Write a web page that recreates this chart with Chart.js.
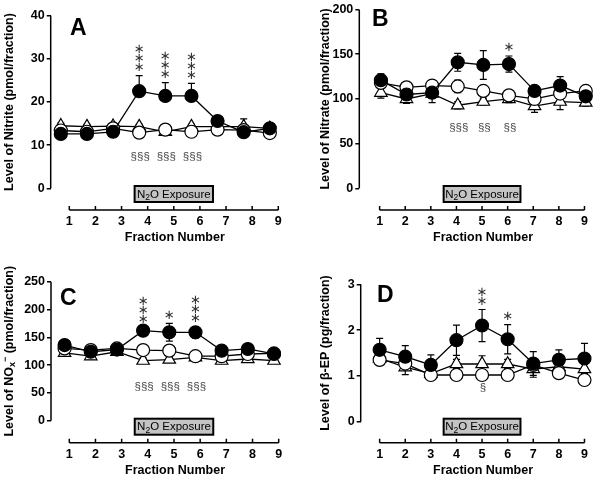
<!DOCTYPE html>
<html>
<head>
<meta charset="utf-8">
<script src="https://cdn.jsdelivr.net/npm/chart.js@4"></script>
<style>
  body { margin: 0; background: #fff; }
  #wrap { position: relative; width: 602px; height: 482px; }
  #wrap canvas { position: absolute; left: 0; top: 0; }
</style>
</head>
<body>
<div id="wrap">
  <canvas id="cA" width="602" height="482"></canvas>
  <canvas id="cB" width="602" height="482"></canvas>
  <canvas id="cC" width="602" height="482"></canvas>
  <canvas id="cD" width="602" height="482"></canvas>
</div>
<script>
// ===== DATA =====
const fractions = [1, 2, 3, 4, 5, 6, 7, 8, 9];
const exposureStart = 3.5, exposureEnd = 6.5;

// A - nitrite (pmol/fraction)
const aTicks     = [0, 10, 20, 30, 40];
const aFilled    = [12.6, 12.6, 13.1, 22.5, 21.4, 21.4, 15.6, 13.0, 13.9];
const aFilledErr = [0.5, 0.5, 0.5, 3.6, 3.1, 2.9, 0.8, 0.8, 0.5];
const aOpen      = [13.4, 13.1, 13.9, 12.9, 13.6, 13.1, 13.6, 13.5, 12.8];
const aOpenErr   = [0.5, 0.5, 0.5, 0.5, 0.5, 0.5, 0.5, 0.6, 0.5];
const aTri       = [14.5, 14.3, 14.4, 14.3, 13.1, 14.3, 14.3, 14.3, 13.9];
const aTriErr    = [0.6, 0.5, 0.5, 0.5, 0.5, 0.5, 0.5, 1.8, 0.5];
const aStars     = ['', '', '', '***', '***', '***', '', '', ''];
const aSect      = ['', '', '', '§§§', '§§§', '§§§', '', '', ''];

// B - nitrate (pmol/fraction)
const bTicks     = [0, 50, 100, 150, 200];
const bFilled    = [121, 105, 107, 141, 138, 139, 109, 115, 103];
const bFilledErr = [7, 10, 11, 10, 16, 9, 4, 10, 4];
const bOpen      = [118, 113, 115, 114, 109, 104, 100, 106, 109];
const bOpenErr   = [5, 6, 4, 7, 5, 4, 4, 5, 4];
const bTri       = [107, 100, 106, 93, 97, 100, 92, 97, 96];
const bTriErr    = [6, 5, 5, 4, 4, 4, 7, 9, 4];
const bStars     = ['', '', '', '', '', '*', '', '', ''];
const bSect      = ['', '', '', '§§§', '§§', '§§', '', '', ''];

// C - NOx- (pmol/fraction)
const cTicks     = [0, 50, 100, 150, 200, 250];
const cFilled    = [136, 124, 128, 162, 159, 159, 126, 129, 120];
const cFilledErr = [5, 5, 5, 5, 16, 10, 5, 5, 5];
const cOpen      = [130, 127, 130, 127, 126, 116, 116, 120, 121];
const cOpenErr   = [5, 5, 5, 6, 6, 5, 5, 5, 5];
const cTri       = [122, 116, 124, 108, 110, 114, 108, 111, 108];
const cTriErr    = [5, 5, 5, 5, 5, 5, 5, 5, 5];
const cStars     = ['', '', '', '***', '*', '***', '', '', ''];
const cSect      = ['', '', '', '§§§', '§§§', '§§§', '', '', ''];

// D - beta-EP (pg/fraction)
const dTicks     = [0, 1, 2, 3];
const dFilled    = [1.57, 1.42, 1.24, 1.78, 2.10, 1.80, 1.27, 1.35, 1.38];
const dFilledErr = [0.25, 0.24, 0.22, 0.33, 0.35, 0.32, 0.26, 0.22, 0.33];
const dOpen      = [1.35, 1.27, 1.02, 1.02, 1.02, 1.02, 1.24, 1.06, 0.91];
const dOpenErr   = [0.10, 0.10, 0.08, 0.08, 0.08, 0.08, 0.10, 0.10, 0.10];
const dTri       = [1.38, 1.19, 1.05, 1.26, 1.26, 1.26, 1.15, 1.20, 1.15];
const dTriErr    = [0.10, 0.16, 0.10, 0.10, 0.18, 0.10, 0.18, 0.10, 0.10];
const dStars     = ['', '', '', '', '**', '*', '', '', ''];
const dSect      = ['', '', '', '', '§', '', '', '', ''];

// ===== STYLE =====
const FONT = 'Arial, "Liberation Sans", sans-serif';
const STAR_FONT = '13px "DejaVu Sans", sans-serif';

function drawParts(ctx, parts, cx, cy) {
    let w = 0;
    parts.forEach(p => { ctx.font = p.font; p.w = ctx.measureText(p.t).width; w += p.w; });
    let x = cx - w / 2;
    ctx.textAlign = 'left';
    ctx.textBaseline = 'middle';
    parts.forEach(p => { ctx.font = p.font; ctx.fillText(p.t, x, cy + (p.dy || 0)); x += p.w; });
}

const panelDecor = {
    id: 'panelDecor',
    beforeDatasetsDraw(chart, args, o) {
        const { ctx, chartArea: ca, scales: { x, xd, y } } = chart;
        ctx.save();
        ctx.strokeStyle = '#000';
        ctx.lineWidth = 1.5;
        // y axis line (0 .. max)
        ctx.beginPath();
        ctx.moveTo(ca.left, y.getPixelForValue(0));
        ctx.lineTo(ca.left, y.getPixelForValue(y.max));
        ctx.stroke();
        // x axis line with upward ticks
        const yb = ca.bottom;
        ctx.beginPath();
        ctx.moveTo(x.getPixelForValue(fractions[0]), yb);
        ctx.lineTo(x.getPixelForValue(fractions[fractions.length - 1]), yb);
        fractions.forEach(f => {
            const px = x.getPixelForValue(f);
            ctx.moveTo(px, yb);
            ctx.lineTo(px, yb - 4);
        });
        ctx.stroke();

        // N2O exposure box
        const bx1 = x.getPixelForValue(exposureStart), bx2 = x.getPixelForValue(exposureEnd);
        const by = yb - 24, bh = 16;
        ctx.fillStyle = '#c4c4c4';
        ctx.fillRect(bx1, by, bx2 - bx1, bh);
        ctx.lineWidth = 2;
        ctx.strokeRect(bx1, by, bx2 - bx1, bh);
        ctx.fillStyle = '#000';
        drawParts(ctx, [
            { t: 'N', font: '11.5px ' + FONT },
            { t: '2', font: '8.5px ' + FONT, dy: 3 },
            { t: 'O Exposure', font: '11.5px ' + FONT }
        ], (bx1 + bx2) / 2, by + bh / 2 + 0.5);

        // error bars
        ctx.lineWidth = 1.2;
        chart.data.datasets.forEach((ds, k) => {
            const err = o.errors[k];
            ds.data.forEach((pt, i) => {
                const px = xd.getPixelForValue(pt.x);
                const yTop = y.getPixelForValue(pt.y + err[i]);
                const yBot = o.upOnly ? y.getPixelForValue(pt.y) : y.getPixelForValue(pt.y - err[i]);
                ctx.beginPath();
                ctx.moveTo(px, yTop); ctx.lineTo(px, yBot);
                ctx.moveTo(px - 3.5, yTop); ctx.lineTo(px + 3.5, yTop);
                if (!o.upOnly) { ctx.moveTo(px - 3.5, yBot); ctx.lineTo(px + 3.5, yBot); }
                ctx.stroke();
            });
        });
        ctx.restore();
    },
    afterDatasetsDraw(chart, args, o) {
        const { ctx, chartArea: ca, scales: { x, xd, y } } = chart;
        const sets = chart.data.datasets;
        ctx.save();

        // significance asterisks, stacked above the filled-circle error bar
        ctx.fillStyle = '#333';
        ctx.font = STAR_FONT;
        ctx.textAlign = 'center';
        ctx.textBaseline = 'middle';
        o.stars.forEach((s, i) => {
            if (!s) return;
            const px = xd.getPixelForValue(fractions[i]);
            const base = y.getPixelForValue(sets[0].data[i].y + o.errors[0][i]) - 10;
            for (let k = 0; k < s.length; k++) ctx.fillText('\u2217', px, base - k * 9 + 2);
        });

        // section signs on one line below the lowest point
        let low = Infinity;
        o.sect.forEach((s, i) => {
            if (!s) return;
            sets.forEach(ds => { low = Math.min(low, ds.data[i].y); });
        });
        ctx.fillStyle = '#444';
        ctx.font = '11.5px ' + FONT;
        o.sect.forEach((s, i) => {
            if (!s) return;
            ctx.fillText(s, xd.getPixelForValue(fractions[i]) + 1, y.getPixelForValue(low) + o.sectGap);
        });

        // panel letter
        ctx.fillStyle = '#000';
        ctx.font = 'bold 23px ' + FONT;
        ctx.textAlign = 'left';
        ctx.textBaseline = 'alphabetic';
        ctx.fillText(o.letter, ca.left + o.letterDx, y.getPixelForValue(y.max) + o.letterDy);

        // x title
        ctx.font = 'bold 12.5px ' + FONT;
        ctx.textAlign = 'center';
        ctx.textBaseline = 'middle';
        const mid = (x.getPixelForValue(fractions[0]) + x.getPixelForValue(fractions[8])) / 2 + 1;
        ctx.fillText('Fraction Number', mid, ca.bottom + 28);

        // y title
        const cy = (y.getPixelForValue(0) + y.getPixelForValue(y.max)) / 2;
        ctx.translate(ca.left - o.titleOff, cy);
        ctx.rotate(-Math.PI / 2);
        drawParts(ctx, o.yTitle.map(p => ({
            t: p.t,
            font: 'bold ' + (p.small ? '9px ' : '12.5px ') + FONT,
            dy: p.dy || 0
        })), 0, 0);
        ctx.restore();
    }
};

// ===== PANELS =====
const panels = [
    { id: 'cA', letter: 'A', series: [aFilled, aOpen, aTri], errors: [aFilledErr, aOpenErr, aTriErr],
      stars: aStars, sect: aSect, yTicks: aTicks, shift: 0.325, upOnly: true,
      yTitle: [{ t: 'Level of Nitrite (pmol/fraction)' }],
      box: { left: 0, axisX: 50.7, x1: 69.3, x9: 278.3, right: 292, top: 15.7, zero: 188.3, axisY: 210, bottom: 246 },
      letterDx: 19.3, letterDy: 19.3, titleOff: 40.7, sectGap: 24 },
    { id: 'cB', letter: 'B', series: [bFilled, bOpen, bTri], errors: [bFilledErr, bOpenErr, bTriErr],
      stars: bStars, sect: bSect, yTicks: bTicks, shift: -0.05, upOnly: false,
      yTitle: [{ t: 'Level of Nitrate (pmol/fraction)' }],
      box: { left: 301, axisX: 359.3, x1: 380, x9: 588.7, right: 598, top: 8.3, zero: 188.3, axisY: 210, bottom: 246 },
      letterDx: 12.7, letterDy: 16.7, titleOff: 33.3, sectGap: 23 },
    { id: 'cC', letter: 'C', series: [cFilled, cOpen, cTri], errors: [cFilledErr, cOpenErr, cTriErr],
      stars: cStars, sect: cSect, yTicks: cTicks, shift: 0.18, upOnly: false,
      yTitle: [{ t: 'Level of NO' }, { t: 'x', small: true, dy: 3 }, { t: '\u2212', small: true, dy: -4 }, { t: ' (pmol/fraction)' }],
      box: { left: 0, axisX: 51, x1: 69.3, x9: 278.7, right: 292, top: 281.7, zero: 420.7, axisY: 442.7, bottom: 478 },
      letterDx: 9, letterDy: 23.3, titleOff: 41, sectGap: 26 },
    { id: 'cD', letter: 'D', series: [dFilled, dOpen, dTri], errors: [dFilledErr, dOpenErr, dTriErr],
      stars: dStars, sect: dSect, yTicks: dTicks, shift: 0, upOnly: false,
      yTitle: [{ t: 'Level of \u03B2-EP (pg/fraction)' }],
      box: { left: 301, axisX: 360.7, x1: 380, x9: 588.7, right: 598, top: 284.3, zero: 421.7, axisY: 442.7, bottom: 478 },
      letterDx: 16.3, letterDy: 17.7, titleOff: 34.7, sectGap: 13 }
];

const markerStyles = [
    { pointStyle: 'circle', pointRadius: 6.5, pointBackgroundColor: '#000' },
    { pointStyle: 'circle', pointRadius: 6.5, pointBackgroundColor: '#fff' },
    { pointStyle: 'triangle', pointRadius: 7.2, pointBackgroundColor: '#fff' }
];

panels.forEach(p => {
    const b = p.box;
    const yMax = p.yTicks[p.yTicks.length - 1];
    const ppu = (b.x9 - b.x1) / 8;
    const xMin = 1 - (b.x1 - b.axisX) / ppu;
    const xMax = 9 + (b.right - b.x9) / ppu;
    const yMin = -(b.axisY - b.zero) * yMax / (b.zero - b.top);

    new Chart(document.getElementById(p.id), {
        type: 'line',
        data: {
            datasets: p.series.map((vals, k) => Object.assign({
                data: fractions.map((f, i) => ({ x: f, y: vals[i] })),
                xAxisID: 'xd',
                borderColor: '#000',
                borderWidth: 1.3,
                pointBorderColor: '#000',
                pointBorderWidth: 1.2,
                fill: false,
                tension: 0,
                clip: false
            }, markerStyles[k]))
        },
        options: {
            responsive: false,
            animation: false,
            devicePixelRatio: 1,
            layout: { padding: { left: b.left, top: b.top, right: 602 - b.right, bottom: 482 - b.bottom } },
            plugins: {
                legend: { display: false },
                tooltip: { enabled: false },
                panelDecor: p
            },
            scales: {
                x: {
                    type: 'linear', min: xMin, max: xMax,
                    afterFit: s => { s.height = b.bottom - b.axisY; },
                    afterBuildTicks: s => { s.ticks = fractions.map(v => ({ value: v })); },
                    grid: { display: false, drawTicks: false },
                    border: { display: false },
                    ticks: { padding: 4, color: '#000', maxRotation: 0, autoSkip: false,
                             font: { family: FONT, size: 12.5, weight: 'bold' } }
                },
                xd: { type: 'linear', display: false, min: xMin + p.shift, max: xMax + p.shift },
                y: {
                    min: yMin, max: yMax,
                    afterFit: s => { s.width = b.axisX - b.left; },
                    afterBuildTicks: s => { s.ticks = p.yTicks.map(v => ({ value: v })); },
                    grid: { drawOnChartArea: false, drawTicks: true, tickLength: 4, color: '#000', lineWidth: 1.5 },
                    border: { display: false },
                    ticks: { padding: 2, color: '#000', autoSkip: false,
                             font: { family: FONT, size: 12.5, weight: 'bold' } }
                }
            }
        },
        plugins: [panelDecor]
    });
});
</script>
</body>
</html>
